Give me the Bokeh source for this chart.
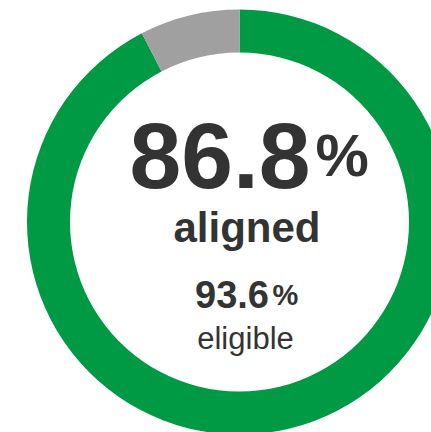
import math
from bokeh.plotting import figure
from bokeh.models import Range1d, ColumnDataSource
from bokeh.core.properties import value
from bokeh.embed import file_html
from bokeh.resources import INLINE

# data
segments = ["aligned share", "remainder"]
ring_values = [92.4, 7.6]
ring_colors = ["#009a44", "#a0a0a0"]
aligned_pct = 86.8
eligible_pct = 93.6
aligned_label = "aligned"
eligible_label = "eligible"

W, H = 431, 432
p = figure(width=W, height=H, output_backend="svg", toolbar_location=None,
           x_range=Range1d(0, W), y_range=Range1d(0, H),
           min_border=0, outline_line_color=None)
p.axis.visible = False
p.grid.visible = False
p.background_fill_color = "white"
p.border_fill_color = "white"

cx, cy = 239, H - 221.5
total = sum(ring_values)
# gray segment starts at 12 o'clock and goes anticlockwise; green fills the rest
a = math.pi / 2
angs = {}
for i in [1, 0]:
    span = ring_values[i] / total * 2 * math.pi
    angs[i] = (a, a + span)
    a += span
src = ColumnDataSource(dict(
    start=[angs[i][0] for i in range(len(ring_values))],
    end=[angs[i][1] for i in range(len(ring_values))],
    color=ring_colors,
))
p.annular_wedge(x=cx, y=cy, inner_radius=169.5, outer_radius=212.5,
                start_angle="start", end_angle="end", fill_color="color",
                line_color=None, source=src)

font = value("Liberation Sans")
tc = "#333333"
p.text(x=[310], y=[H - 155], text=[f"{aligned_pct:.1f}"], text_font=font,
       text_font_size="93px", text_font_style="bold", text_color=tc,
       text_align="right", text_baseline="alphabetic")
p.text(x=[315], y=[H - 155], text=["%"], text_font=font,
       text_font_size="60px", text_font_style="bold", text_color=tc,
       text_align="left", text_baseline="alphabetic")
p.text(x=[246.5], y=[H - 227], text=[aligned_label], text_font=font,
       text_font_size="42px", text_font_style="bold", text_color=tc,
       text_align="center", text_baseline="alphabetic")
p.text(x=[268.5], y=[H - 294], text=[f"{eligible_pct:.1f}"], text_font=font,
       text_font_size="38px", text_font_style="bold", text_color=tc,
       text_align="right", text_baseline="alphabetic")
p.text(x=[272], y=[H - 294], text=["%"], text_font=font,
       text_font_size="29px", text_font_style="bold", text_color=tc,
       text_align="left", text_baseline="alphabetic")
p.text(x=[245], y=[H - 338], text=[eligible_label], text_font=font,
       text_font_size="31px", text_font_style="normal", text_color=tc,
       text_align="center", text_baseline="alphabetic")

open("out.html", "w").write(file_html(p, INLINE))
